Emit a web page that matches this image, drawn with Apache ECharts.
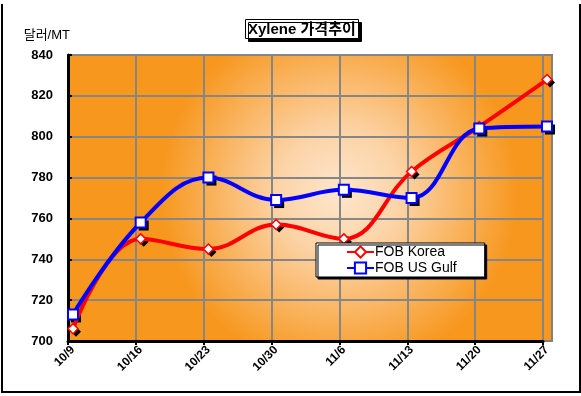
<!DOCTYPE html>
<html><head><meta charset="utf-8">
<script src="https://cdn.jsdelivr.net/npm/echarts@6/dist/echarts.min.js"></script>
<style>
html,body{margin:0;padding:0;background:#fff;}
#wrap{position:relative;width:581px;height:396px;}
#frame{position:absolute;left:1px;top:4px;width:576px;height:387px;border-left:2px solid #000;border-right:2px solid #000;border-bottom:2px solid #000;pointer-events:none;}
#c{position:absolute;left:0;top:0;width:581px;height:396px;}
</style></head>
<body><div id="wrap"><div id="c"></div><div id="frame"></div></div>
<script>
const categories = ['10/9','10/16','10/23','10/30','11/6','11/13','11/20','11/27'];
const fobKorea = [706, 750, 745, 757, 750, 783, 805, 828];
const fobUSGulf = [713, 758, 780, 769, 774, 770, 804, 805];
const yTicks = [700, 720, 740, 760, 780, 800, 820, 840];

const FF = "'Liberation Sans', Arial, 'Noto Sans CJK KR', sans-serif";
const chart = echarts.init(document.getElementById('c'), null, {renderer: 'canvas'});
const yMin = yTicks[0], yMax = yTicks[yTicks.length - 1], yStep = yTicks[1] - yTicks[0];

function shadowSeries(data, symbol, size) {
  return {type: 'line', xAxisIndex: 2, yAxisIndex: 2, data: data, z: 1,
    symbol: symbol, symbolSize: size, symbolOffset: [3, 3], showSymbol: true,
    lineStyle: {opacity: 0}, itemStyle: {color: '#000', borderWidth: 0},
    silent: true, legendHoverLink: false};
}

chart.setOption({
  animation: false,
  title: {
    text: 'Xylene 가격추이',
    left: 245, top: 19,
    padding: [3, 3, 2, 3],
    backgroundColor: '#fff',
    borderColor: '#000', borderWidth: 1,
    shadowColor: '#000', shadowBlur: 0, shadowOffsetX: 3, shadowOffsetY: 3,
    textStyle: {fontFamily: FF, fontSize: 15, fontWeight: 'bold', color: '#000'}
  },
  legend: {
    data: ['FOB Korea', 'FOB US Gulf'],
    orient: 'vertical',
    left: 316, top: 243,
    padding: [2, 28, 2, 30],
    itemGap: 2,
    itemWidth: 27, itemHeight: 14,
    backgroundColor: '#fff',
    borderColor: '#000', borderWidth: 1,
    shadowColor: '#000', shadowBlur: 0, shadowOffsetX: 2, shadowOffsetY: 2,
    textStyle: {fontFamily: FF, fontSize: 14, color: '#000', padding: [0, 0, 0, -4]}
  },
  grid: [
    {left: 68, top: 55, width: 484, height: 286, show: true,
     borderColor: '#808080', borderWidth: 2,
     backgroundColor: {type: 'radial', x: 0.56, y: 0.48, r: 0.62,
       colorStops: [{offset: 0, color: '#fde6cc'}, {offset: 0.35, color: '#fcd3a6'}, {offset: 1, color: '#f7971e'}]}},
    {left: 68, top: 55, width: 475, height: 286},
    {left: 73, top: 55, width: 474, height: 286}
  ],
  xAxis: [
    {gridIndex: 0, type: 'value', min: 0, max: 1, axisLabel: {show: false}, axisTick: {show: false}, splitLine: {show: false},
     axisLine: {show: false}},
    {gridIndex: 1, type: 'category', data: categories, boundaryGap: false,
     axisLine: {show: true, lineStyle: {color: '#000', width: 3}},
     axisTick: {show: true, length: 4, lineStyle: {color: '#000', width: 2}},
     axisLabel: {show: false},
     splitLine: {show: true, lineStyle: {color: '#868686', width: 2}}},
    {gridIndex: 2, type: 'category', data: categories, boundaryGap: false,
     axisLine: {show: false}, axisTick: {show: false}, splitLine: {show: false},
     axisLabel: {rotate: 45, margin: 7, fontFamily: FF, fontSize: 12, fontWeight: 'bold', color: '#000', interval: 0}}
  ],
  yAxis: [
    {gridIndex: 0, type: 'value', min: 0, max: 1, axisLabel: {show: false}, axisTick: {show: false}, splitLine: {show: false},
     axisLine: {show: false}},
    {gridIndex: 1, type: 'value', min: yMin, max: yMax, interval: yStep,
     name: '달러/MT', nameLocation: 'end', nameGap: 20,
     nameTextStyle: {fontFamily: FF, fontSize: 13, color: '#000', align: 'right', verticalAlign: 'middle', padding: [0, -2, 0, 0]},
     axisLine: {show: true, lineStyle: {color: '#000', width: 3}},
     axisTick: {show: true, inside: true, length: 4, lineStyle: {color: '#000', width: 2}},
     axisLabel: {margin: 15, fontFamily: FF, fontSize: 13, fontWeight: 'bold', color: '#000'},
     splitLine: {show: true, lineStyle: {color: '#868686', width: 2}}},
    {gridIndex: 2, type: 'value', min: yMin, max: yMax, interval: yStep,
     axisLine: {show: false}, axisTick: {show: false}, axisLabel: {show: false}, splitLine: {show: false}}
  ],
  series: [
    shadowSeries(fobKorea, 'diamond', 10),
    shadowSeries(fobUSGulf, 'rect', 10),
    {name: 'FOB Korea', type: 'line', xAxisIndex: 2, yAxisIndex: 2, data: fobKorea, z: 3,
     smooth: 0.4, symbol: 'diamond', symbolSize: 10,
     lineStyle: {color: '#ff0000', width: 4},
     itemStyle: {color: '#fff', borderColor: '#ff0000', borderWidth: 1.5}},
    {name: 'FOB US Gulf', type: 'line', xAxisIndex: 2, yAxisIndex: 2, data: fobUSGulf, z: 3,
     smooth: 0.4, symbol: 'rect', symbolSize: 10,
     lineStyle: {color: '#0000ff', width: 4},
     itemStyle: {color: '#fff', borderColor: '#0000ff', borderWidth: 2}}
  ]
});
</script></body></html>
